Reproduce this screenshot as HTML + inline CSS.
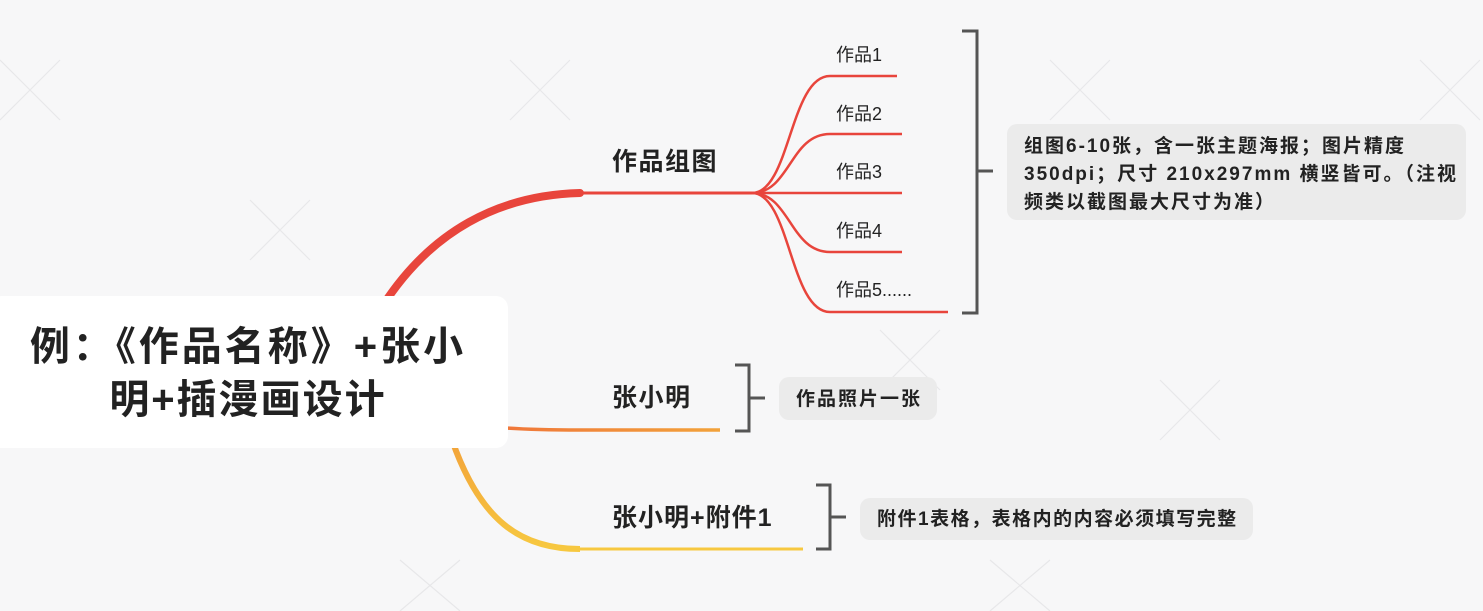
<!DOCTYPE html>
<html><head><meta charset="utf-8"><style>
html,body{margin:0;padding:0;width:1483px;height:611px;overflow:hidden;background:#f7f7f8;}
svg{position:absolute;left:0;top:0;}
text{font-family:"Liberation Sans","Noto Sans CJK SC",sans-serif;fill:#222;}
</style></head><body>
<svg width="1483" height="611" viewBox="0 0 1483 611">
<defs>
<linearGradient id="g2" x1="0" y1="0" x2="1" y2="0"><stop offset="0" stop-color="#ef6a3a"/><stop offset="1" stop-color="#f2a23a"/></linearGradient>
<linearGradient id="g3" x1="0" y1="0" x2="0" y2="1"><stop offset="0" stop-color="#f2a23a"/><stop offset="1" stop-color="#f7c840"/></linearGradient>
</defs>
<g stroke="#e4e4e6" stroke-width="1.2" opacity="0.8">
<path d="M0 60 L60 120 M60 60 L0 120"/>
<path d="M510 60 L570 120 M570 60 L510 120"/>
<path d="M1050 60 L1110 120 M1110 60 L1050 120"/>
<path d="M1420 60 L1480 120 M1480 60 L1420 120"/>
<path d="M250 200 L310 260 M310 200 L250 260"/>
<path d="M880 330 L940 390 M940 330 L880 390"/>
<path d="M1160 380 L1220 440 M1220 380 L1160 440"/>
<path d="M400 560 L460 611 M460 560 L400 611"/>
<path d="M990 560 L1050 611 M1050 560 L990 611"/>
</g>
<path d="M380 310 C430 230 500 195 580 193" stroke="#e8453c" stroke-width="8" fill="none" stroke-linecap="round"/>
<path d="M580 193 L752 193" stroke="#e8453c" stroke-width="3" fill="none"/>
<g stroke="#e8453c" stroke-width="2.5" fill="none">
<path d="M752 193 C790 193 790 76 830 76 L897 76"/>
<path d="M752 193 C790 193 790 134 830 134 L902 134"/>
<path d="M752 193 L902 193"/>
<path d="M752 193 C790 193 790 252 830 252 L902 252"/>
<path d="M752 193 C790 193 790 312 830 312 L948 312"/>
</g>
<path d="M440 418 C480 428 520 430 580 430 L720 430" stroke="url(#g2)" stroke-width="3.5" fill="none"/>
<path d="M452 440 C480 520 520 549 580 549" stroke="url(#g3)" stroke-width="6" fill="none"/>
<path d="M580 549 L803 549" stroke="#f7c840" stroke-width="3" fill="none"/>
<rect x="-10" y="296" width="518" height="152" rx="12" fill="#fff"/>
<text x="248" y="360" font-size="40" font-weight="bold" text-anchor="middle" letter-spacing="3">例：《作品名称》+张小</text>
<text x="248" y="413" font-size="40" font-weight="bold" text-anchor="middle" letter-spacing="2">明+插漫画设计</text>
<text x="612" y="170" font-size="25" font-weight="bold" letter-spacing="1.5">作品组图</text>
<text x="612" y="406" font-size="25" font-weight="bold" letter-spacing="1.5">张小明</text>
<text x="612" y="526" font-size="25" font-weight="bold" letter-spacing="1">张小明+附件1</text>
<g font-size="18">
<text x="836" y="61">作品1</text>
<text x="836" y="120">作品2</text>
<text x="836" y="178">作品3</text>
<text x="836" y="237">作品4</text>
<text x="836" y="296">作品5......</text>
</g>
<g stroke="#555" stroke-width="3" fill="none">
<path d="M962 31 L977 31 L977 313 L962 313 M977 171 L993 171"/>
<path d="M735 365 L749 365 L749 431 L735 431 M749 398 L765 398"/>
<path d="M816 485 L830 485 L830 549 L816 549 M830 517 L846 517"/>
</g>
<rect x="1007" y="124" width="459" height="96" rx="10" fill="#ebebeb"/>
<g font-size="19" font-weight="bold" letter-spacing="2">
<text x="1024" y="152">组图6-10张，含一张主题海报；图片精度</text>
<text x="1024" y="180">350dpi；尺寸 210x297mm 横竖皆可。（注视</text>
<text x="1024" y="208">频类以截图最大尺寸为准）</text>
</g>
<rect x="779" y="377" width="158" height="43" rx="10" fill="#ebebeb"/>
<text x="796" y="405" font-size="19" font-weight="bold" letter-spacing="2">作品照片一张</text>
<rect x="860" y="498" width="393" height="42" rx="10" fill="#ebebeb"/>
<text x="877" y="525" font-size="19" font-weight="bold" letter-spacing="1.5">附件1表格，表格内的内容必须填写完整</text>
</svg>
</body></html>
